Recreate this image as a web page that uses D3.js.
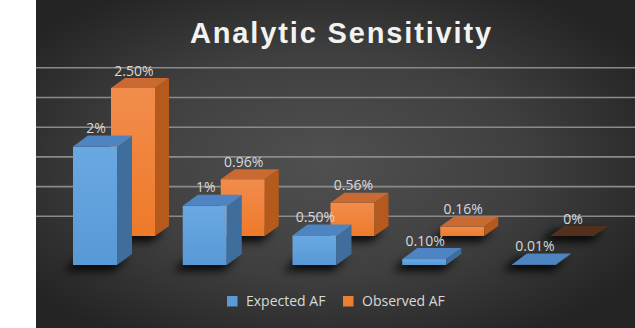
<!DOCTYPE html>
<html><head><meta charset="utf-8">
<script src="https://cdn.jsdelivr.net/npm/d3@7"></script>
<style>html,body{margin:0;padding:0;background:#fff;}svg{display:block;}</style>
</head><body>
<script>
// ---- data ----
const categories = ["Level 1", "Level 2", "Level 3", "Level 4", "Level 5"];
const seriesNames = ["Expected AF", "Observed AF"];
const expectedAF = [2, 1, 0.5, 0.1, 0.01];
const observedAF = [2.5, 0.96, 0.56, 0.16, 0];
const expectedLabels = ["2%", "1%", "0.50%", "0.10%", "0.01%"];
const observedLabels = ["2.50%", "0.96%", "0.56%", "0.16%", "0%"];
const gridValues = [0.5, 1, 1.5, 2, 2.5, 3];
const title = "Analytic Sensitivity";

const W = 635, H = 328;
const svg = d3.select("body").append("svg").attr("width", W).attr("height", H);
const defs = svg.append("defs");

const bg = defs.append("radialGradient").attr("id","bg").attr("cx","0.48").attr("cy","0.5").attr("r","0.62");
bg.append("stop").attr("offset","0").attr("stop-color","#505050");
bg.append("stop").attr("offset","0.55").attr("stop-color","#3f3f3f");
bg.append("stop").attr("offset","1").attr("stop-color","#242424");

function lin(id, c1, c2){
  const g = defs.append("linearGradient").attr("id",id).attr("x1",0).attr("y1",0).attr("x2",0).attr("y2",1);
  g.append("stop").attr("offset",0).attr("stop-color",c1);
  g.append("stop").attr("offset",1).attr("stop-color",c2);
}
lin("blueFront","#6aa8e2","#5799d6");
lin("orangeFront","#f28c4c","#ee7a2a");

const f = defs.append("filter").attr("id","shadow").attr("x","-50%").attr("y","-100%").attr("width","200%").attr("height","300%");
f.append("feGaussianBlur").attr("stdDeviation",4);

svg.append("rect").attr("x",0).attr("y",0).attr("width",W).attr("height",H).attr("fill","#fff");
svg.append("rect").attr("x",36).attr("y",0).attr("width",W-36).attr("height",H).attr("fill","url(#bg)");

// ---- scales ----
const x = d3.scaleBand().domain(categories).range([55, 603.75]).padding(0);
const barW = 44;
const yWall = d3.scaleLinear().domain([0, 3]).range([246, 67.8]);
const yBlue = d3.scaleLinear().domain([0, 3]).range([265, 87.4]);
const yOrange = d3.scaleLinear().domain([0, 3]).range([236, 58.4]);

// gridlines
svg.append("g").selectAll("line").data(gridValues).join("line")
  .attr("x1",36).attr("x2",W)
  .attr("y1",d=>yWall(d)).attr("y2",d=>yWall(d))
  .attr("stroke","#8a8a8a").attr("stroke-width",1.6);

const series = [
  {name: seriesNames[1], values: observedAF, labels: observedLabels, y: yOrange, off: 56, dx: 14, dy: -10,
   front: "url(#orangeFront)", side: "#b5591d", top: "#c86a32", zeroTop: "#52301b"},
  {name: seriesNames[0], values: expectedAF, labels: expectedLabels, y: yBlue, off: 18, dx: 15, dy: -11,
   front: "url(#blueFront)", side: "#3f6e9c", top: "#4e84c2", zeroTop: "#5a8fcc"}
];

function poly(pts){ return "M" + pts.map(p=>p.join(",")).join("L") + "Z"; }

series.forEach(s => {
  const g = svg.append("g");
  const data = categories.map((c,i)=>({c, v: s.values[i], label: s.labels[i]}));
  // shadows
  g.selectAll("path.sh").data(data).join("path").attr("class","sh")
    .attr("d", d => {
      const x0 = x(d.c) + s.off - 8, y0 = s.y(0) + 4;
      return poly([[x0-2,y0+2],[x0+barW+4,y0+2],[x0+barW+4+s.dx,y0+s.dy],[x0+s.dx-2,y0+s.dy]]);
    })
    .attr("fill","#000").attr("opacity",0.85).attr("filter","url(#shadow)");
  const bars = g.selectAll("g.bar").data(data).join("g").attr("class","bar");
  // front
  bars.append("rect")
    .attr("x", d => x(d.c) + s.off).attr("width", barW)
    .attr("y", d => s.y(d.v)).attr("height", d => s.y(0) - s.y(d.v))
    .attr("fill", s.front);
  // side
  bars.append("path").attr("d", d => {
    const xr = x(d.c) + s.off + barW, yt = s.y(d.v), yb = s.y(0);
    return poly([[xr,yt],[xr+s.dx,yt+s.dy],[xr+s.dx,yb+s.dy],[xr,yb]]);
  }).attr("fill", s.side);
  // top
  bars.append("path").attr("d", d => {
    const xl = x(d.c) + s.off, yt = s.y(d.v);
    return poly([[xl,yt],[xl+barW,yt],[xl+barW+s.dx,yt+s.dy],[xl+s.dx,yt+s.dy]]);
  }).attr("fill", d => d.v === 0 ? s.zeroTop : s.top);
  s.data = data;
});

// labels
series.forEach(s => {
  svg.append("g").selectAll("text").data(s.data).join("text")
    .attr("x", d => x(d.c) + s.off + barW/2 + 1)
    .attr("y", d => s.y(d.v) + s.dy - 2.5)
    .attr("text-anchor","middle")
    .attr("font-family","'Open Sans', sans-serif").attr("font-size",14)
    .attr("fill","#d9d9d9")
    .text(d => d.label);
});

// title
const t = svg.append("text").attr("x",190).attr("y",43)
  .attr("font-family","'Liberation Sans', Arial, sans-serif").attr("font-weight","bold")
  .attr("font-size",29).attr("fill","#f2f2f2").text(title);
const len = t.node().getComputedTextLength();
t.attr("letter-spacing", ((301 - len) / (title.length - 1)).toFixed(2));

// legend
const legend = svg.append("g");
const legItems = [
  {name: seriesNames[0], color: "#5b9bd5", x: 227},
  {name: seriesNames[1], color: "#ed7d31", x: 343}
];
legend.selectAll("rect").data(legItems).join("rect")
  .attr("x", d=>d.x).attr("y",296).attr("width",10.5).attr("height",10.5).attr("fill",d=>d.color);
legend.selectAll("text").data(legItems).join("text")
  .attr("x", d=>d.x+19).attr("y",306)
  .attr("font-family","'Open Sans', sans-serif").attr("font-size",14)
  .attr("fill","#d9d9d9").text(d=>d.name);
</script>
</body></html>
